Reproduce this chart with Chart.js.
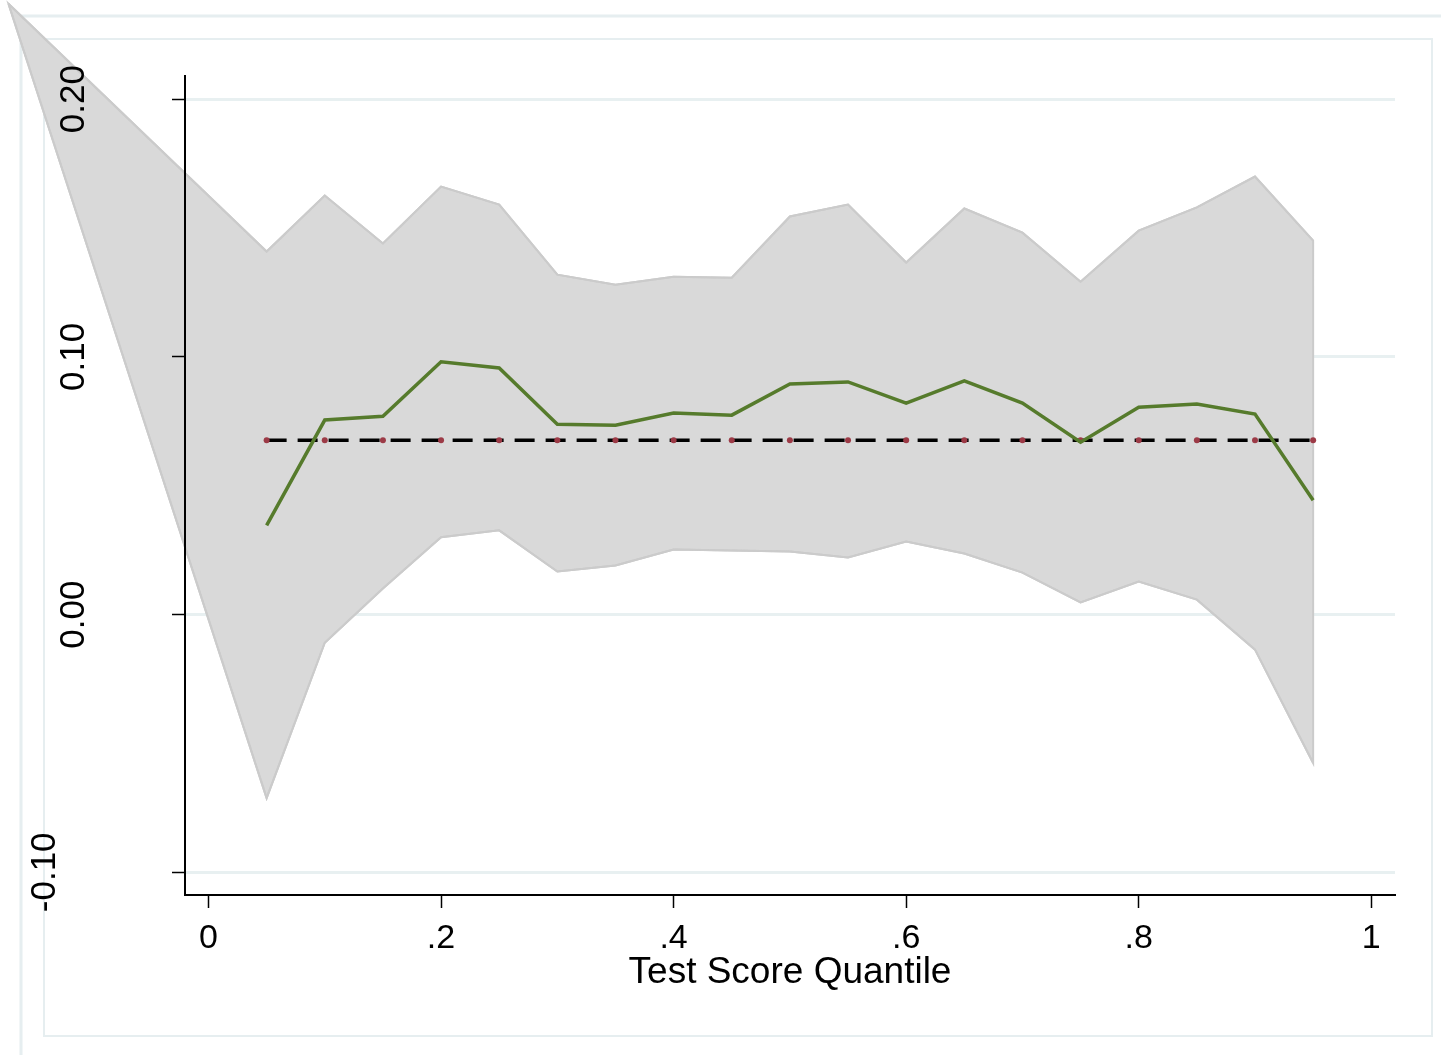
<!DOCTYPE html>
<html>
<head>
<meta charset="utf-8">
<script src="https://cdn.jsdelivr.net/npm/chart.js@4.4.1/dist/chart.umd.min.js"></script>
<style>
html,body{margin:0;padding:0;background:#ffffff;}
canvas{display:block;}
</style>
</head>
<body>
<canvas id="c" width="1441" height="1055"></canvas>
<script>
// ---- data ----
const quantiles = [0.05,0.10,0.15,0.20,0.25,0.30,0.35,0.40,0.45,0.50,0.55,0.60,0.65,0.70,0.75,0.80,0.85,0.90,0.95];
const estimates = [0.0346,0.0755,0.0770,0.0981,0.0957,0.0739,0.0735,0.0782,0.0774,0.0895,0.0903,0.0821,0.0907,0.0821,0.0669,0.0805,0.0817,0.0778,0.0444];
const meanEffect = [0.0677,0.0677,0.0677,0.0677,0.0677,0.0677,0.0677,0.0677,0.0677,0.0677,0.0677,0.0677,0.0677,0.0677,0.0677,0.0677,0.0677,0.0677,0.0677];
const bandX   = [-0.172,0.05,0.10,0.15,0.20,0.25,0.30,0.35,0.40,0.45,0.50,0.55,0.60,0.65,0.70,0.75,0.80,0.85,0.90,0.95];
const upperCI = [0.237,0.1409,0.1626,0.1440,0.1661,0.1591,0.1319,0.1280,0.1311,0.1307,0.1545,0.1591,0.1366,0.1576,0.1482,0.1292,0.1490,0.1580,0.1700,0.1451];
const lowerCI = [0.237,-0.0712,-0.0109,0.0101,0.0300,0.0327,0.0167,0.0191,0.0253,0.0249,0.0245,0.0222,0.0284,0.0237,0.0163,0.0047,0.0128,0.0058,-0.0136,-0.0576];
const xTickValues = [0,0.2,0.4,0.6,0.8,1];
const xTickLabels = ['0','.2','.4','.6','.8','1'];
const yTickValues = [-0.1,0,0.1,0.2];
const yTickLabels = ['-0.10','0.00','0.10','0.20'];
const xAxisTitle = 'Test Score Quantile';

// ---- styling ----
const FONT = "'Liberation Sans', Arial, sans-serif";
const FRAME = '#e6eef0';
const BAND_FILL = '#d9d9d9';
const BAND_EDGE = '#cbcbcb';

const toXY = (xs, ys) => xs.map((x, i) => ({x: x, y: ys[i]}));

const framePlugin = {
  id: 'frames',
  beforeDraw(chart) {
    const ctx = chart.ctx;
    ctx.save();
    ctx.strokeStyle = FRAME;
    ctx.lineWidth = 3;
    ctx.beginPath();
    ctx.moveTo(21, 1060); ctx.lineTo(21, 16); ctx.lineTo(1445, 16);
    ctx.stroke();
    ctx.lineWidth = 2;
    ctx.strokeRect(44, 39, 1388, 997);
    ctx.restore();
  }
};

const bandPlugin = {
  id: 'bandFill',
  beforeDatasetsDraw(chart) {
    const ds = chart.data.datasets;
    const iu = ds.findIndex(d => d.label === 'upper');
    const il = ds.findIndex(d => d.label === 'lower');
    const up = chart.getDatasetMeta(iu).data;
    const lo = chart.getDatasetMeta(il).data;
    const ctx = chart.ctx;
    ctx.save();
    ctx.beginPath();
    up.forEach((p, i) => { if (i === 0) ctx.moveTo(p.x, p.y); else ctx.lineTo(p.x, p.y); });
    for (let i = lo.length - 1; i >= 0; i--) ctx.lineTo(lo[i].x, lo[i].y);
    ctx.closePath();
    ctx.fillStyle = BAND_FILL;
    ctx.fill();
    ctx.strokeStyle = BAND_EDGE;
    ctx.lineWidth = 2;
    ctx.lineJoin = 'miter';
    ctx.stroke();
    ctx.restore();
  }
};

const yMin = -0.1088, yMax = 0.209;

new Chart(document.getElementById('c'), {
  type: 'line',
  data: {
    datasets: [
      {
        label: 'estimate',
        data: toXY(quantiles, estimates),
        borderColor: '#567b2c',
        borderWidth: 3.5,
        pointRadius: 0,
        tension: 0,
        fill: false,
        order: 0
      },
      {
        label: 'mean',
        data: toXY(quantiles, meanEffect),
        borderColor: '#000000',
        borderWidth: 3.5,
        borderDash: [20, 11],
        pointRadius: 3,
        pointBackgroundColor: '#9c3a46',
        pointBorderWidth: 0,
        tension: 0,
        fill: false,
        order: 1
      },
      {
        label: 'upper',
        data: toXY(bandX, upperCI),
        borderColor: BAND_EDGE,
        borderWidth: 2,
        pointRadius: 0,
        fill: false,
        clip: false,
        order: 2
      },
      {
        label: 'lower',
        data: toXY(bandX, lowerCI),
        borderColor: BAND_EDGE,
        borderWidth: 2,
        pointRadius: 0,
        fill: false,
        clip: false,
        order: 3
      }
    ]
  },
  options: {
    responsive: false,
    animation: false,
    devicePixelRatio: 1,
    layout: { padding: { left: 0, top: 76, right: 46, bottom: 0 } },
    plugins: { legend: { display: false }, tooltip: { enabled: false } },
    scales: {
      x: {
        type: 'linear',
        position: 'bottom',
        min: -0.0202,
        max: 1.0204,
        afterBuildTicks(s) { s.ticks = xTickValues.map(v => ({value: v})); },
        afterFit(s) { s.height = 160; s.paddingLeft = 0; s.paddingRight = 0; },
        grid: { drawOnChartArea: false, drawTicks: true, tickLength: 13, tickColor: '#000', tickWidth: 1.5, z: 1 },
        border: { display: true, color: '#000', width: 2, z: 1 },
        ticks: {
          autoSkip: false,
          maxRotation: 0, minRotation: 0,
          padding: 10,
          color: '#000',
          font: { family: FONT, size: 34 },
          callback: (v, i) => xTickLabels[i],
          z: 1
        },
        title: {
          display: true,
          text: xAxisTitle,
          color: '#000',
          font: { family: FONT, size: 37 },
          padding: { top: 0, bottom: 60 }
        }
      },
      y: {
        type: 'linear',
        position: 'left',
        min: yMin, max: yMax,
        afterBuildTicks(s) { s.ticks = yTickValues.map(v => ({value: v})); },
        afterFit(s) { s.width = 0; s.paddingTop = 0; s.paddingBottom = 0; },
        grid: { drawOnChartArea: true, drawTicks: false, color: '#e8f0f1', lineWidth: 3, z: -1 },
        border: { display: false },
        ticks: { display: false }
      },
      yAxis: {
        type: 'linear',
        position: 'left',
        min: yMin, max: yMax,
        afterBuildTicks(s) { s.ticks = yTickValues.map(v => ({value: v})); },
        afterFit(s) { s.width = 185; s.paddingTop = 0; s.paddingBottom = 0; },
        grid: { drawOnChartArea: false, drawTicks: true, tickLength: 13, tickColor: '#000', tickWidth: 1.5, z: 1 },
        border: { display: true, color: '#000', width: 2, z: 1 },
        ticks: {
          autoSkip: false,
          minRotation: 90, maxRotation: 90,
          crossAlign: 'center',
          padding: 58,
          color: '#000',
          font: (ctx) => ({ family: FONT, size: 35, lineHeight: yTickLabels[ctx.index] && yTickLabels[ctx.index].startsWith('-') ? '58px' : 1.2 }),
          callback: (v, i) => yTickLabels[i].startsWith('-') ? [yTickLabels[i], ''] : yTickLabels[i],
          z: 1
        }
      }
    }
  },
  plugins: [framePlugin, bandPlugin]
});
</script>
</body>
</html>
